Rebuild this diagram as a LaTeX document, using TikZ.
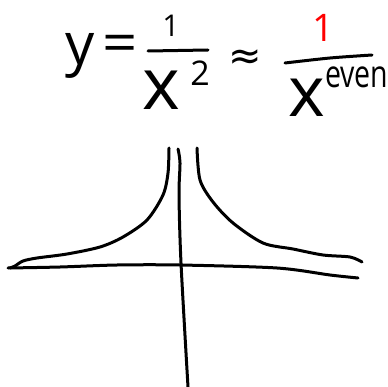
\documentclass[tikz,border=0pt]{standalone}
\usepackage{fontspec}
\setmainfont{Open Sans}
\newfontfamily\symfont{DejaVu Sans}
\tikzset{
  ink/.style={line width=3pt, line cap=round, line join=round, black},
  glyph/.style={inner sep=0pt, outer sep=0pt},
}
\newcommand{\fs}[1]{\fontsize{#1}{#1}\selectfont}
\begin{document}
\begin{tikzpicture}[x=1pt,y=-1pt]
\useasboundingbox[fill=white] (0,0) rectangle (387,387);
% formula
\node[glyph, anchor=base] (y) at (80,65) {\fs{58}y};
\node[glyph, xscale=1.1] (eq) at (120,49) {\fs{56}=};
\node[glyph] (one1) at (171,26) {\fs{30}1};
\draw[ink] (148,51) -- (208,50);
\node[glyph, anchor=base] (x1) at (161,110) {\fs{72}x};
\node[glyph, anchor=base] (two) at (200,86) {\fs{34}2};
\node[glyph] (approx) at (245,60) {\symfont\fs{40}≈};
\node[glyph, red] (one2) at (323,28) {\fs{38}1};
\draw[ink] plot[smooth] coordinates {(285,63) (330,58) (372,55)};
\node[glyph, anchor=base] (x2) at (307,117) {\fs{70}x};
\node[glyph, anchor=base west, xscale=0.75] (even) at (325,88) {\fs{38}even};
% axes
\draw[ink] plot[smooth] coordinates {(178,149) (180,163) (179,195) (181,263) (188,387)};
\draw[ink] plot[smooth] coordinates {(8,268) (60,267) (117,265) (180,265) (277,268) (330,275) (358,278)};
% curves
\draw[ink] plot[smooth] coordinates {(169,148) (168,173) (163,195) (147,220) (123,237) (100,247) (67,254) (37,258) (23,261) (15,266) (10,268)};
\draw[ink] plot[smooth] coordinates {(197,148) (200,180) (213,202) (233,223) (263,243) (293,249) (323,255) (350,257) (362,262)};
\end{tikzpicture}
\end{document}
